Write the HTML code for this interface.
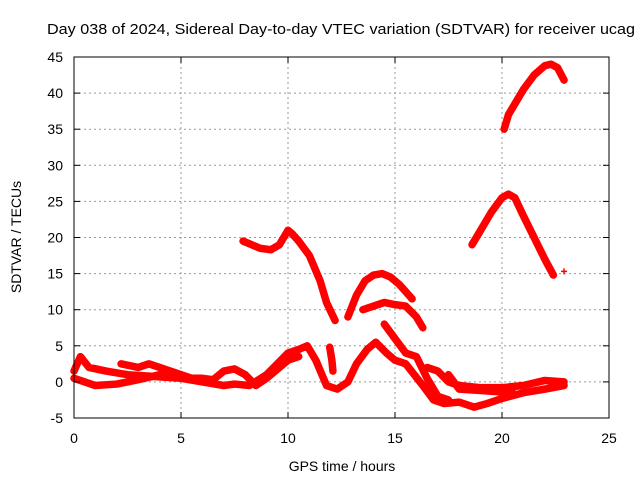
<!DOCTYPE html>
<html><head><meta charset="utf-8"><style>
body{margin:0;background:#fff;}
svg{font-family:"Liberation Sans",sans-serif;}
</style></head><body>
<svg width="640" height="480" viewBox="0 0 640 480">
<text x="47" y="34" font-size="15" textLength="588" lengthAdjust="spacingAndGlyphs">Day 038 of 2024, Sidereal Day-to-day VTEC variation (SDTVAR) for receiver ucag</text>
<g id="grid"></g>
<g id="series"></g>
<rect x="74" y="57" width="535" height="361" fill="none" stroke="#000" stroke-width="1"/>
<g id="ticks"></g>
<text x="342" y="471" font-size="14" text-anchor="middle">GPS time / hours</text>
<text transform="translate(21,237) rotate(-90)" font-size="14" text-anchor="middle">SDTVAR / TECUs</text>
</svg>
<script>
const xTicks=[0,5,10,15,20,25];
const yTicks=[-5,0,5,10,15,20,25,30,35,40,45];
const sArcTop=[[20.1,35],[20.3,37],[20.7,39],[21,40.5],[21.5,42.5],[22,43.8],[22.3,44],[22.6,43.5],[22.9,41.8]];
const sArcMid=[[18.6,19],[19,21],[19.5,23.5],[20,25.5],[20.3,26],[20.6,25.5],[21,23],[21.5,20],[22,17],[22.4,14.8]];
const sC=[[7.9,19.5],[8.3,19],[8.7,18.5],[9.2,18.3],[9.6,19],[10,21],[10.2,20.5],[10.5,19.5],[11,17.5],[11.5,14],[11.8,11],[12.2,8.5]];
const sD=[[12.8,9],[13.2,12],[13.6,14],[14,14.8],[14.4,15],[14.8,14.5],[15.2,13.5],[15.5,12.5],[15.8,11.5]];
const sE=[[13.5,10],[14,10.5],[14.5,11],[15,10.7],[15.5,10.5],[16,9],[16.3,7.5]];
const sF1=[[0,1.5],[0.3,3.5],[0.7,2],[1.5,1.5],[2.5,1],[3.5,0.8],[5,0.5],[6,0],[7,-0.5],[7.5,-0.3],[8.2,-0.5],[9,1],[9.5,2.5],[10,4],[10.5,4.5],[10.9,5],[11.3,3],[11.8,-0.5],[12.3,-1],[12.8,0],[13.2,2.5],[13.7,4.5],[14.1,5.5],[14.6,4],[15,3],[15.5,2.5],[15.9,1],[16.3,-0.5],[16.8,-2.5],[17.3,-3],[18,-2.8],[18.7,-3.5],[19.3,-3],[20,-2.3],[21,-1.5],[22,-1],[22.9,-0.5]];
const sF2=[[0,0.5],[1,-0.5],[2,-0.3],[3,0.3],[4,1],[5,0.5],[6,0.5],[6.5,0.3],[7,1.5],[7.5,1.8],[8,1],[8.5,-0.5],[9,0.5],[10,3],[10.5,3.5]];
const sF3=[[2.2,2.5],[3,2],[3.5,2.5],[4.5,1.5],[5.5,0.5]];
const sF4=[[14.5,8],[15,6],[15.5,4],[16,3.5],[16.5,0.5],[17,-2],[17.5,-2.5]];
const sF5=[[16.5,2],[17,1.5],[17.5,0],[18,-0.5],[19,-0.8],[20,-0.8],[21,-0.5],[22,0.2],[22.9,0]];
const sF6=[[17.5,1],[18,-1],[19,-1.2],[20.5,-1.5]];
const sSpike=[[11.95,4.8],[12.05,3],[12.1,1.5]];
const sSingle=[[22.9,15.3]];
const allSeries=[sArcTop,sArcMid,sC,sD,sE,sF1,sF2,sF3,sF4,sF5,sF6,sSpike];
const NS="http://www.w3.org/2000/svg";
const X=h=>74+h*21.4, Y=v=>57+(45-v)*7.22;
const grid=document.getElementById('grid'),ticks=document.getElementById('ticks'),ser=document.getElementById('series');
function mk(t,a,p){const e=document.createElementNS(NS,t);for(const k in a)e.setAttribute(k,a[k]);p.appendChild(e);return e;}
xTicks.forEach(t=>{
 if(t>0&&t<25){const l=mk('line',{x1:X(t),x2:X(t),y1:57,y2:418,stroke:'#999','stroke-dasharray':'2,3'},grid);
 
 }
 const tx=mk('text',{x:X(t),y:443,'font-size':14,'text-anchor':'middle'},ticks);tx.textContent=t;
 
 
 mk('line',{x1:X(t),x2:X(t),y1:418,y2:412,stroke:'#000'},ticks);mk('line',{x1:X(t),x2:X(t),y1:57,y2:63,stroke:'#000'},ticks);
});
yTicks.forEach(t=>{
 if(t>-5&&t<45){const l=mk('line',{x1:74,x2:609,y1:Y(t),y2:Y(t),stroke:'#999','stroke-dasharray':'2,3'},grid);
 
 }
 const tx=mk('text',{x:63,y:Y(t)+5,'font-size':14,'text-anchor':'end'},ticks);tx.textContent=t;
 
 
 mk('line',{x1:74,x2:80,y1:Y(t),y2:Y(t),stroke:'#000'},ticks);mk('line',{x1:603,x2:609,y1:Y(t),y2:Y(t),stroke:'#000'},ticks);
});
allSeries.forEach(s=>{
 const p=mk('polyline',{points:s.map(d=>X(d[0])+','+Y(d[1])).join(' '),fill:'none',stroke:'#f00','stroke-width':7.5,'stroke-linejoin':'round','stroke-linecap':'round'},ser);
 
 
});
sSingle.forEach(d=>{
 const p=mk('path',{d:`M${X(d[0])-3},${Y(d[1])}h6M${X(d[0])},${Y(d[1])-3}v6`,stroke:'#f00','stroke-width':1.5},ser);
 
 
});
</script>
</body></html>
